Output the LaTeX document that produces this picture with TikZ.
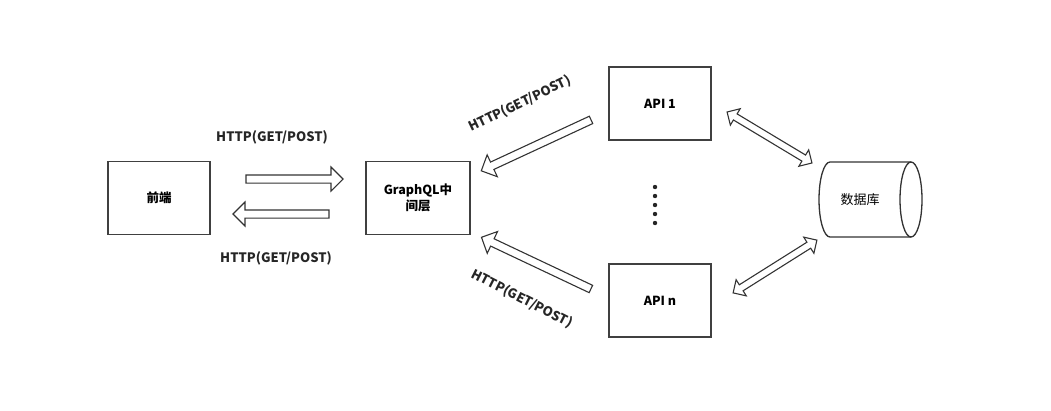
\documentclass[tikz,border=0pt]{standalone}
\usepackage{fontspec}
\setmainfont{Noto Sans CJK SC}
\usetikzlibrary{shapes.arrows}
\begin{document}
\begin{tikzpicture}[x=1pt,y=-1pt,
  box/.style={draw=black!75,line width=1.6pt,minimum width=102pt,minimum height=73pt,inner sep=0pt,font=\fontsize{12.5}{16}\selectfont\bfseries,align=center},
  blk/.style={single arrow,draw=black!80,line width=1.1pt,inner sep=3.5pt,single arrow head extend=8pt,single arrow tip angle=90},
  dblk/.style={double arrow,draw=black!80,line width=1.1pt,inner sep=3pt,double arrow head extend=6pt,double arrow tip angle=90},
  cyl/.style={draw=black!80,line width=1.3pt},
  lbl/.style={font=\fontsize{13}{15}\selectfont\bfseries,text=black!85}]
\useasboundingbox (0,0) rectangle (1051,410);
\node[box] (fe) at (159,198) {前端};
\node[box,minimum width=104pt] (gql) at (418,198) {GraphQL中\\间层};
\node[box] (api1) at (660,103.5) {API 1};
\node[box] (apin) at (660,300.5) {API n};
% database cylinder
\node[minimum width=103pt,minimum height=75pt,inner sep=0pt,font=\fontsize{13}{15}\selectfont] (db) at (860,199.5) {数据库};
\draw[cyl] (911,162) -- (830,162) arc[start angle=90,end angle=270,x radius=11pt,y radius=37.5pt] -- (911,237);
\draw[cyl] (911,199.5) ellipse[x radius=11pt,y radius=37.5pt];
\foreach \i in {0,...,4}{\fill[black!85] (655,187+9*\i) circle (2.2pt);}
\node[blk,minimum height=97pt] (a1) at (292.5,179) {};
\node[blk,minimum height=96pt,rotate=180] (a2) at (283,214) {};
\node[blk,minimum height=121pt,rotate=204.9] (a3) at (538,144.5) {};
\node[blk,minimum height=121pt,rotate=154.7] (a4) at (538,264) {};
\node[dblk,minimum height=99pt,rotate=-31] (a5) at (769.5,137.5) {};
\node[dblk,minimum height=99pt,rotate=32.2] (a6) at (775,266.5) {};
\node[lbl] (l1) at (272,137) {HTTP(GET/POST)};
\node[lbl] (l2) at (276,258) {HTTP(GET/POST)};
\node[lbl,rotate=25.5] (l3) at (520,104) {HTTP(GET/POST)};
\node[lbl,rotate=-27] (l4) at (522,299) {HTTP(GET/POST)};
\end{tikzpicture}
\end{document}
